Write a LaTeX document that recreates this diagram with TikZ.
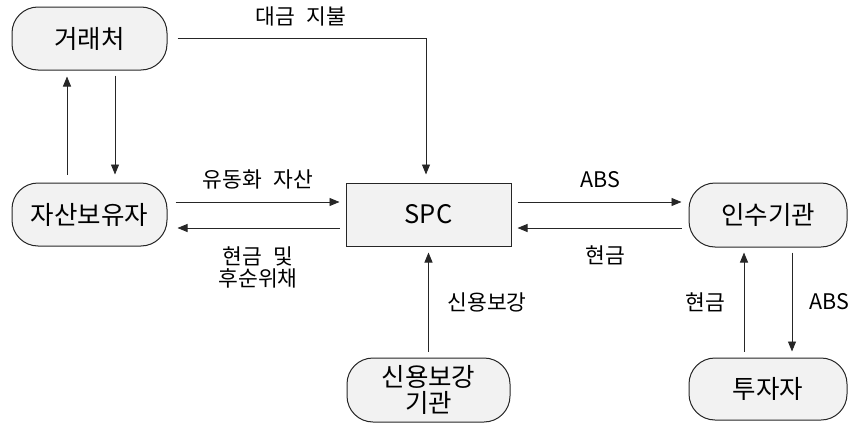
\documentclass[tikz,border=0pt]{standalone}
\usepackage{fontspec}
\setmainfont[WordSpace=2.4]{Noto Sans CJK KR}
\usetikzlibrary{arrows.meta}
\begin{document}
\begin{tikzpicture}[x=1pt,y=-1pt,
  party/.style={draw=black!85, fill=black!5, rounded corners=26pt, line width=1pt,
    minimum width=155pt, minimum height=63pt, inner sep=0pt, align=center,
    font=\fontsize{25.5}{26}\selectfont},
  vehicle/.style={draw=black!85, fill=black!5, line width=1pt,
    minimum width=165pt, minimum height=63pt, inner sep=0pt,
    font=\fontsize{25.5}{26}\selectfont},
  flow/.style={draw=black!85, line width=0.9pt, -{Triangle[length=10pt,width=8pt]}},
  lbl/.style={font=\fontsize{21.5}{22}\selectfont, align=center, inner sep=0pt}]
\useasboundingbox (0,0) rectangle (852,423);

% participants
\node[party] (gr)  at (89.5,38.5)  {거래처};
\node[party] (ja)  at (89.5,214.5) {자산보유자};
\node[vehicle] (spc) at (428.5,214.5) {SPC};
\node[party, minimum width=158pt, minimum height=64pt] (inst) at (768,215) {인수기관};
\node[party, minimum width=158pt, minimum height=62pt] (inv)  at (768,389) {투자자};
\node[party, minimum width=163pt, minimum height=64pt] (cre) at (428.5,390) {신용보강\\기관};

% originator and its counterparty
\draw[flow, shorten <=8pt, shorten >=6pt] ([xshift=-22.5pt]ja.north) -- ([xshift=-22.5pt]gr.south);
\draw[flow, shorten <=5pt, shorten >=8pt] ([xshift=25.5pt]gr.south) -- ([xshift=25.5pt]ja.north);

% payment into the SPC
\draw[flow, shorten <=10pt, shorten >=8pt] ([yshift=0.5pt]gr.east) -| ([xshift=-2.5pt]spc.north);
\node[lbl] (lpay) at (301,16) {대금 지불};

% asset transfer
\draw[flow, shorten <=8pt, shorten >=6pt] ([yshift=12.5pt]ja.east) -- ([yshift=12.5pt]spc.west);
\draw[flow, shorten <=6pt, shorten >=10pt] ([yshift=-13.5pt]spc.west) -- ([yshift=-13.5pt]ja.east);
\node[lbl] (lasset) at (258,179) {유동화 자산};
\node[lbl] (lcash1) at (258,267) {현금 및\\후순위채};

% ABS issuance
\draw[flow, shorten <=6pt, shorten >=7pt] ([yshift=12.5pt]spc.east) -- ([yshift=13pt]inst.west);
\draw[flow, shorten <=7pt, shorten >=6pt] ([yshift=-13pt]inst.west) -- ([yshift=-13.5pt]spc.east);
\node[lbl] (labs1) at (600,180) {ABS};
\node[lbl] (lcash2) at (605,255) {현금};

% investors
\draw[flow, shorten <=6pt, shorten >=5pt] ([xshift=-24pt]inv.north) -- ([xshift=-24pt]inst.south);
\draw[flow, shorten <=5pt, shorten >=6pt] ([xshift=24pt]inst.south) -- ([xshift=24pt]inv.north);
\node[lbl] (lcash3) at (705,302) {현금};
\node[lbl] (labs2) at (829,302) {ABS};

% credit enhancement
\draw[flow, shorten <=6pt, shorten >=6pt] (cre.north) -- (spc.south);
\node[lbl] (lcre) at (487,302) {신용보강};
\end{tikzpicture}
\end{document}
